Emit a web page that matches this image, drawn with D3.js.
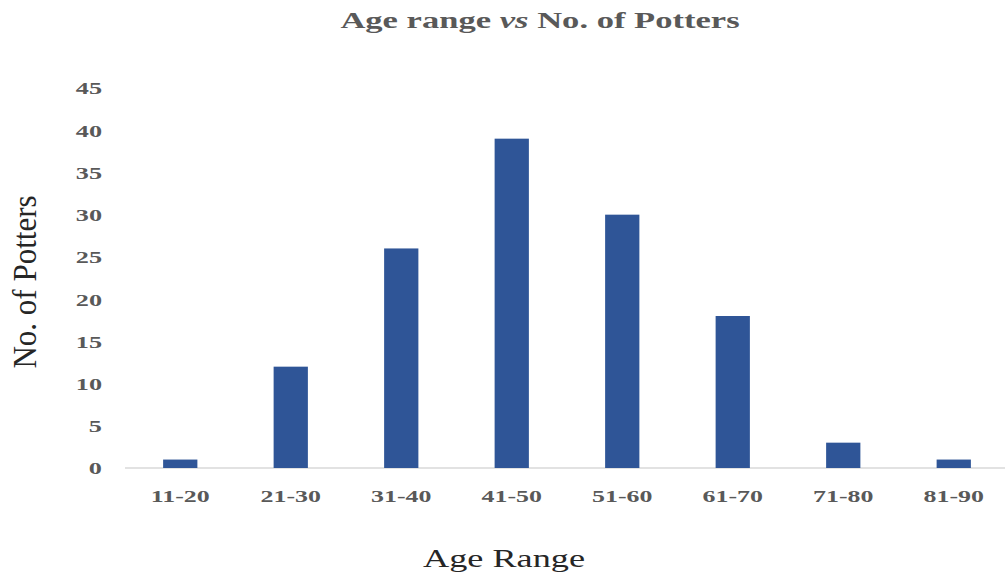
<!DOCTYPE html>
<html><head><meta charset="utf-8">
<script src="https://cdn.jsdelivr.net/npm/d3@7"></script>
<style>body{margin:0;background:#fff}</style>
</head><body>
<script>
const categories = ["11-20","21-30","31-40","41-50","51-60","61-70","71-80","81-90"];
const values = [1,12,26,39,30,18,3,1];
const yTicks = [0,5,10,15,20,25,30,35,40,45];

const W = 1007, H = 573;
const svg = d3.select("body").append("svg").attr("width", W).attr("height", H);

const x = d3.scaleBand().domain(categories).range([125, 1009]).paddingInner(0.69).paddingOuter(0.345);
const y = d3.scaleLinear().domain([0, 45]).range([468, 88]);

svg.append("line").attr("x1", 125).attr("x2", 1005).attr("y1", y(0)).attr("y2", y(0))
  .attr("stroke", "#d9d9d9").attr("stroke-width", 1.5);

svg.selectAll("rect.bar").data(values).enter().append("rect")
  .attr("x", (d,i) => x(categories[i]))
  .attr("width", x.bandwidth())
  .attr("y", d => y(d))
  .attr("height", d => y(0) - y(d))
  .attr("fill", "#2f5597");

const yAxis = d3.axisLeft(y).tickValues(yTicks).tickSize(0).tickPadding(0);
const gy = svg.append("g").attr("transform", "translate(102,0)").call(yAxis);
gy.select(".domain").remove();
gy.selectAll("text").attr("x", 0).attr("dy", "0.34em")
  .attr("font-family", "Liberation Serif").attr("font-weight", "bold")
  .attr("font-size", 17.5).attr("fill", "#595959").attr("transform", "scale(1.5,1)");

const xAxis = d3.axisBottom(x).tickSize(0).tickPadding(0);
const gx = svg.append("g").attr("transform", "translate(0,502)").call(xAxis);
gx.select(".domain").remove();
gx.selectAll("text").attr("y", 0).attr("dy", 0)
  .attr("font-family", "Liberation Serif").attr("font-weight", "bold")
  .attr("font-size", 17.5).attr("fill", "#595959").attr("transform", "scale(1.48,1)");

const t = svg.append("text").attr("transform", "translate(540,28) scale(1.44,1)").attr("text-anchor", "middle")
  .attr("font-family", "Liberation Serif").attr("font-weight", "bold").attr("font-size", 24)
  .attr("fill", "#595959");
t.append("tspan").text("Age range ");
t.append("tspan").attr("font-style", "italic").text("vs");
t.append("tspan").text(" No. of Potters");

svg.append("text").attr("transform", "translate(36,282) rotate(-90) scale(1,1.12)").attr("text-anchor", "middle")
  .attr("font-family", "Liberation Serif").attr("font-size", 31).attr("fill", "#262626")
  .text("No. of Potters");

svg.append("text").attr("transform", "translate(504,567) scale(1.45,1)").attr("text-anchor", "middle")
  .attr("font-family", "Liberation Serif").attr("font-size", 25).attr("fill", "#262626")
  .text("Age Range");
</script>
</body></html>
